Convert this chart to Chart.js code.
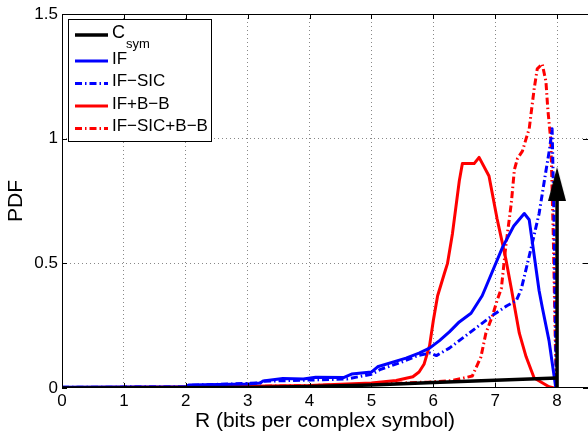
<!DOCTYPE html>
<html>
<head>
<meta charset="utf-8">
<script src="https://cdn.jsdelivr.net/npm/chart.js@4.4.0/dist/chart.umd.min.js"></script>
<style>
  html, body { margin: 0; padding: 0; background: #fff; }
  #wrap { width: 588px; height: 434px; }
</style>
</head>
<body>
<div id="wrap"><canvas id="myChart" width="588" height="434"></canvas></div>
<script>
// tick labels
const xTicks = [0, 1, 2, 3, 4, 5, 6, 7, 8];
const yTicks = [0, 0.5, 1, 1.5];

// series names (C_sym -> C with subscript)
const seriesNames = ['C_sym', 'IF', 'IF\u2212SIC', 'IF+B\u2212B', 'IF\u2212SIC+B\u2212B'];

// C_sym: small slope, then mass at R = 8
const csymX = [0, 3, 4, 5, 6, 7, 8];
const csymY = [0, 0.002, 0.006, 0.012, 0.022, 0.031, 0.04];
const csymMassX = [8, 8];
const csymMassY = [0, 0.77];
const csymArrow = [8, 0.818];

// IF
const ifX = [0, 1, 2, 2.05, 3, 3.2, 3.25, 3.57, 3.9, 4.1, 4.55, 4.68, 5, 5.1, 5.56, 5.77, 5.94, 6.1, 6.26, 6.42, 6.61, 6.79, 6.85, 7.12, 7.3, 7.47, 7.55, 7.71, 7.76, 7.87, 7.98];
const ifY = [0.003, 0.004, 0.005, 0.012, 0.016, 0.02, 0.028, 0.038, 0.036, 0.043, 0.042, 0.056, 0.064, 0.085, 0.12, 0.14, 0.16, 0.19, 0.225, 0.265, 0.3, 0.37, 0.405, 0.565, 0.65, 0.70, 0.675, 0.39, 0.325, 0.19, 0];

// IF-SIC
const ifsicX = [0, 2, 2.05, 3.2, 3.25, 4, 4.6, 5, 5.15, 5.5, 5.75, 5.95, 6.05, 6.26, 6.58, 6.95, 7.19, 7.34, 7.42, 7.58, 7.71, 7.82, 7.88, 7.92, 7.95, 7.97, 7.99];
const ifsicY = [0.003, 0.004, 0.011, 0.02, 0.027, 0.032, 0.036, 0.055, 0.075, 0.105, 0.13, 0.14, 0.13, 0.16, 0.22, 0.29, 0.33, 0.35, 0.395, 0.56, 0.70, 0.87, 0.96, 1.04, 0.7, 0.3, 0];

// IF+B-B
const ifbbX = [0, 1, 2, 3, 4, 5, 5.4, 5.67, 5.77, 5.85, 5.94, 6.0, 6.07, 6.18, 6.23, 6.31, 6.42, 6.47, 6.66, 6.74, 6.9, 7.03, 7.17, 7.26, 7.39, 7.5, 7.63, 7.87, 7.95];
const ifbbY = [0.002, 0.003, 0.004, 0.007, 0.01, 0.02, 0.03, 0.045, 0.064, 0.095, 0.17, 0.27, 0.37, 0.46, 0.5, 0.62, 0.83, 0.9, 0.9, 0.925, 0.85, 0.68, 0.52, 0.4, 0.22, 0.125, 0.04, 0.005, 0];

// IF-SIC+B-B
const ifsicbbX = [0, 2, 3, 4, 5, 5.5, 5.94, 6.31, 6.63, 6.77, 6.85, 6.95, 7.03, 7.1, 7.17, 7.26, 7.31, 7.36, 7.44, 7.5, 7.55, 7.63, 7.68, 7.76, 7.82, 7.85, 7.9, 7.94, 7.97, 7.99];
const ifsicbbY = [0.002, 0.003, 0.006, 0.01, 0.015, 0.02, 0.024, 0.03, 0.048, 0.125, 0.22, 0.285, 0.35, 0.40, 0.565, 0.74, 0.875, 0.92, 0.95, 1.0, 1.04, 1.2, 1.28, 1.3, 1.23, 1.12, 0.99, 0.6, 0.2, 0];

const FONT = 'Liberation Sans, Arial, Helvetica, sans-serif';
const DASHDOT = [7, 3, 1.5, 3];

const pts = (xs, ys) => xs.map((x, i) => ({x: x, y: ys[i]}));

// arrow head for the mass at R = 8
const arrowImg = document.createElement('canvas');
arrowImg.width = 18;
arrowImg.height = 34;
const actx = arrowImg.getContext('2d');
actx.fillStyle = '#000';
actx.beginPath();
actx.moveTo(9, 0);
actx.lineTo(18, 34);
actx.lineTo(0, 34);
actx.closePath();
actx.fill();

const legendStyles = [
  {color: '#000', dash: [], width: 3.5},
  {color: '#0000ff', dash: [], width: 3},
  {color: '#0000ff', dash: DASHDOT, width: 3},
  {color: '#ff0000', dash: [], width: 3},
  {color: '#ff0000', dash: DASHDOT, width: 3}
];

// box, inward ticks and legend, MATLAB style
const framePlugin = {
  id: 'frame',
  afterDraw(chart) {
    const c = chart.ctx;
    const a = chart.chartArea;
    const xs = chart.scales.x, ys = chart.scales.y;
    c.save();
    c.strokeStyle = '#000';
    c.lineWidth = 1;
    c.setLineDash([]);
    // right edge sits just past the canvas, as in the original
    c.strokeRect(a.left + 0.5, a.top + 0.5, a.right - a.left, a.bottom - a.top - 1);

    c.beginPath();
    xTicks.forEach(v => {
      const px = Math.round(xs.getPixelForValue(v)) + 0.5;
      c.moveTo(px, a.bottom); c.lineTo(px, a.bottom - 5);
      c.moveTo(px, a.top); c.lineTo(px, a.top + 5);
    });
    yTicks.forEach(v => {
      const py = Math.round(ys.getPixelForValue(v)) + 0.5;
      c.moveTo(a.left, py); c.lineTo(a.left + 5, py);
      c.moveTo(a.right, py); c.lineTo(a.right - 5, py);
    });
    c.stroke();

    // legend
    const bx = a.left + 6, by = a.top + 5, bw = 143, bh = 122;
    c.fillStyle = '#fff';
    c.fillRect(bx, by, bw, bh);
    c.strokeRect(bx + 0.5, by + 0.5, bw, bh);
    const rows = [16, 42, 64.5, 87, 109.5];
    seriesNames.forEach((name, i) => {
      const y = by + rows[i];
      const st = legendStyles[i];
      c.beginPath();
      c.strokeStyle = st.color;
      c.lineWidth = st.width;
      c.setLineDash(st.dash);
      c.moveTo(bx + 7, y);
      c.lineTo(bx + 40, y);
      c.stroke();
      c.setLineDash([]);
      c.fillStyle = '#000';
      c.textBaseline = 'middle';
      c.textAlign = 'left';
      const parts = name.split('_');
      c.font = (parts[1] ? '18px ' : '17px ') + FONT;
      c.fillText(parts[0], bx + 44, y - 2);
      if (parts[1]) {
        const w = c.measureText(parts[0]).width;
        c.font = '13px ' + FONT;
        c.fillText(parts[1], bx + 44 + w + 1, y + 9);
      }
    });
    c.restore();
  }
};

const ctx = document.getElementById('myChart');

new Chart(ctx, {
  type: 'line',
  data: {
    datasets: [
      {label: seriesNames[0], data: pts(csymX, csymY), borderColor: '#000', borderWidth: 3.5},
      {label: 'mass', data: pts(csymMassX, csymMassY), borderColor: '#000', borderWidth: 3.5},
      {label: 'arrow', data: [{x: csymArrow[0], y: csymArrow[1]}], showLine: false, pointRadius: 10, pointStyle: arrowImg},
      {label: seriesNames[1], data: pts(ifX, ifY), borderColor: '#0000ff', borderWidth: 3},
      {label: seriesNames[2], data: pts(ifsicX, ifsicY), borderColor: '#0000ff', borderWidth: 3, borderDash: DASHDOT},
      {label: seriesNames[3], data: pts(ifbbX, ifbbY), borderColor: '#ff0000', borderWidth: 3},
      {label: seriesNames[4], data: pts(ifsicbbX, ifsicbbY), borderColor: '#ff0000', borderWidth: 3, borderDash: DASHDOT}
    ]
  },
  options: {
    responsive: false,
    animation: false,
    layout: {autoPadding: false, padding: {top: 14, right: 0, left: 0, bottom: 0}},
    elements: {
      point: {radius: 0},
      line: {tension: 0, borderJoinStyle: 'round', borderCapStyle: 'butt'}
    },
    plugins: {legend: {display: false}, tooltip: {enabled: false}},
    scales: {
      x: {
        type: 'linear',
        min: 0,
        max: 8.5,
        afterFit: s => { s.height = 46; s.paddingLeft = 0; s.paddingRight = 0; },
        afterBuildTicks: s => { s.ticks = xTicks.map(v => ({value: v})); },
        grid: {
          drawTicks: false,
          lineWidth: 1,
          color: c => (c.tick && c.tick.value === 0) ? 'rgba(0,0,0,0)' : '#888'
        },
        border: {display: false, dash: [1, 3]},
        ticks: {color: '#000', padding: 3, font: {family: FONT, size: 17}, maxRotation: 0},
        title: {display: true, text: 'R (bits per complex symbol)', color: '#000', font: {family: FONT, size: 21}, padding: {top: 0, bottom: 0}}
      },
      y: {
        min: 0,
        max: 1.5,
        afterFit: s => { s.width = 62; s.paddingTop = 0; s.paddingBottom = 0; },
        afterBuildTicks: s => { s.ticks = yTicks.map(v => ({value: v})); },
        grid: {
          drawTicks: false,
          lineWidth: 1,
          color: c => (c.tick && (c.tick.value === 0 || c.tick.value === 1.5)) ? 'rgba(0,0,0,0)' : '#888'
        },
        border: {display: false, dash: [1, 3]},
        ticks: {color: '#000', padding: 4, font: {family: FONT, size: 17}, callback: v => String(v)},
        title: {display: true, text: 'PDF', color: '#000', font: {family: FONT, size: 21}, padding: {top: 4, bottom: 0}}
      }
    }
  },
  plugins: [framePlugin]
});
</script>
</body>
</html>
